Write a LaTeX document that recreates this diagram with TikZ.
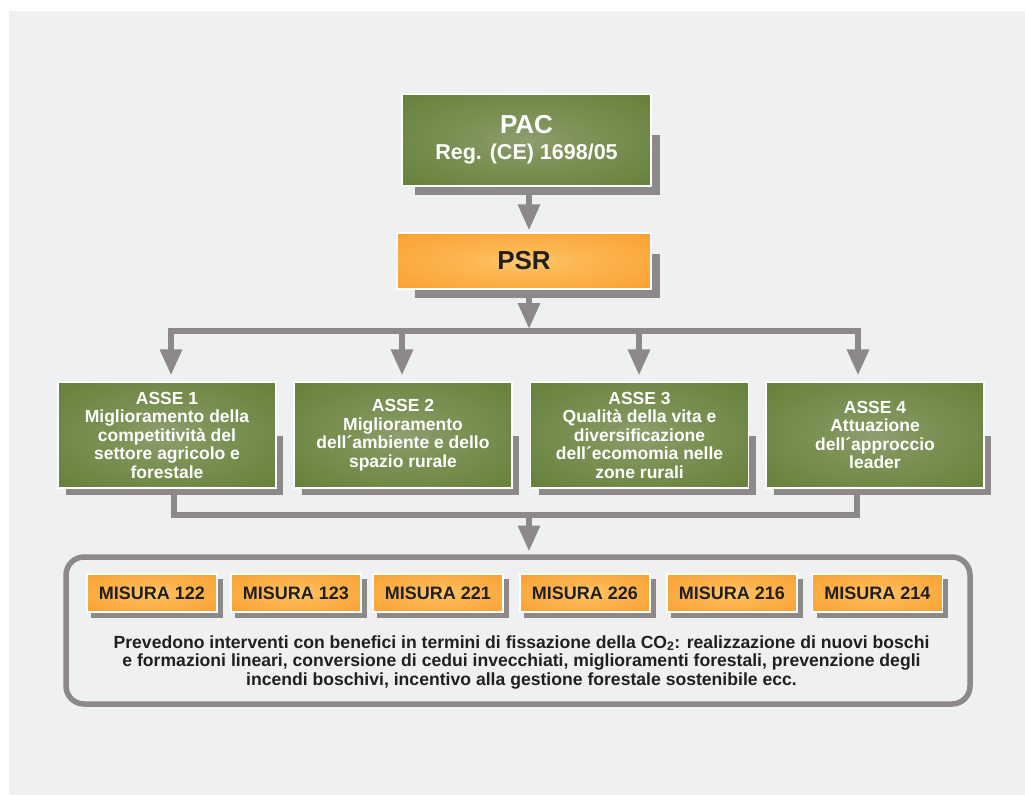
\documentclass[tikz,border=0pt]{standalone}
\usepackage{fontspec}
\setmainfont{Liberation Sans}
\usetikzlibrary{arrows.meta,calc}
\definecolor{panel}{RGB}{239,240,242}
\definecolor{shadowgray}{RGB}{141,137,136}
\definecolor{ink}{RGB}{35,31,32}
\pgfdeclareradialshading{greenglow}{\pgfpoint{0bp}{0bp}}{rgb(0bp)=(0.56,0.62,0.44);rgb(10bp)=(0.50,0.58,0.35);rgb(50bp)=(0.34,0.46,0.16)}
\pgfdeclareradialshading{orangeglow}{\pgfpoint{0bp}{0bp}}{rgb(0bp)=(1,0.80,0.45);rgb(10bp)=(0.99,0.72,0.33);rgb(50bp)=(0.97,0.58,0.12)}
\pgfdeclarelayer{bg}
\pgfdeclarelayer{edges}
\pgfdeclarelayer{shadows}
\pgfsetlayers{bg,edges,shadows,main}
\newcommand\boxshadow[4]{\fill[shadowgray] ($(#1.north west)+(#2,#3)$) rectangle ($(#1.south east)+(#4,#4)$);}
\tikzset{
  greenbox/.style={shade, shading=greenglow, draw=white, line width=1.2pt, inner sep=0pt, text=white, align=center},
  orangebox/.style={shade, shading=orangeglow, draw=white, line width=1.2pt, inner sep=0pt, text=ink, align=center},
  assebox/.style={greenbox, minimum width=218pt, minimum height=106pt, font=\bfseries\fontsize{17.5}{18.5}\selectfont},
  misurabox/.style={orangebox, minimum width=130pt, minimum height=38pt, font=\bfseries\fontsize{18}{20}\selectfont},
  bigbox/.style={draw=shadowgray, line width=5.5pt, rounded corners=18pt, inner sep=0pt},
  line/.style={draw=shadowgray, line width=6pt},
  conn/.style={line, -{Triangle[width=21pt,length=26pt]}},
}
\begin{document}
\begin{tikzpicture}[x=1pt,y=-1pt]
\useasboundingbox (0,0) rectangle (1025,795);
\begin{pgfonlayer}{bg}
  \fill[white] (0,0) rectangle (1025,795);
  \fill[panel] (9,11) rectangle (1025,795);
\end{pgfonlayer}

\node[greenbox, minimum width=249pt, minimum height=92pt, font=\bfseries] (pac) at (526.5,140)
  {\fontsize{26}{28}\selectfont PAC\\[9pt]\fontsize{21.5}{24}\selectfont Reg. (CE) 1698/05};
\node[orangebox, minimum width=254pt, minimum height=56pt, font=\bfseries\fontsize{26}{28}\selectfont] (psr) at (524,261) {PSR};

\node[assebox] (asse1) at (167,435) {ASSE 1\\Miglioramento della\\competitività del\\settore agricolo e\\forestale};
\node[assebox] (asse2) at (403,435) {ASSE 2\\Miglioramento\\dell´ambiente e dello\\spazio rurale};
\node[assebox] (asse3) at (639.5,435) {ASSE 3\\Qualità della vita e\\diversificazione\\dell´ecomomia nelle\\zone rurali};
\node[assebox] (asse4) at (875,435) {ASSE 4\\Attuazione\\dell´approccio\\leader};

\node[bigbox, minimum width=904pt, minimum height=147pt] (big) at (518,630.5) {};

\node[misurabox] (m1) at (152,593) {MISURA 122};
\node[misurabox] (m2) at (296,593) {MISURA 123};
\node[misurabox] (m3) at (438,593) {MISURA 221};
\node[misurabox] (m4) at (585,593) {MISURA 226};
\node[misurabox] (m5) at (732,593) {MISURA 216};
\node[misurabox] (m6) at (877.5,593) {MISURA 214};

\node[font=\bfseries\fontsize{17.6}{18.5}\selectfont, text=ink, align=center] (desc) at (521.5,662)
  {Prevedono interventi con benefici in termini di fissazione della CO\textsubscript{2}: realizzazione di nuovi boschi\\
   e formazioni lineari, conversione di cedui invecchiati, miglioramenti forestali, prevenzione degli\\
   incendi boschivi, incentivo alla gestione forestale sostenibile ecc.};

\begin{pgfonlayer}{shadows}
  \boxshadow{pac}{14}{42}{8}
  \boxshadow{psr}{19}{22}{8}
  \boxshadow{asse1}{9}{55}{6.5}
  \boxshadow{asse2}{9}{55}{6.5}
  \boxshadow{asse3}{9}{55}{6.5}
  \boxshadow{asse4}{9}{55}{6.5}
  \boxshadow{m1}{5}{6}{5}
  \boxshadow{m2}{5}{6}{5}
  \boxshadow{m3}{5}{6}{5}
  \boxshadow{m4}{5}{6}{5}
  \boxshadow{m5}{5}{6}{5}
  \boxshadow{m6}{5}{6}{5}
\end{pgfonlayer}

\coordinate (split) at (529,331);
\coordinate (merge) at (529,514.5);
\path (merge |- big.north) coordinate (bigtop);
\begin{pgfonlayer}{edges}
  \draw[conn] ([xshift=2.5pt]pac.south) -- ([xshift=5pt,yshift=2pt]psr.north);
  \draw[conn] ([xshift=5pt]psr.south) -- ([yshift=2pt]split);
  \draw[conn] (split) -| ([xshift=4pt,yshift=6pt]asse1.north);
  \draw[conn] (split) -| ([xshift=-1pt,yshift=6pt]asse2.north);
  \draw[conn] (split) -| ([xshift=-0.5pt,yshift=6pt]asse3.north);
  \draw[conn] (split) -| ([xshift=-17pt,yshift=6pt]asse4.north);
  \draw[line] ([xshift=7pt]asse1.south) |- (merge) -| ([xshift=-18pt]asse4.south);
  \draw[conn] (merge) -- ([yshift=2.75pt]bigtop);
\end{pgfonlayer}
\end{tikzpicture}
\end{document}
